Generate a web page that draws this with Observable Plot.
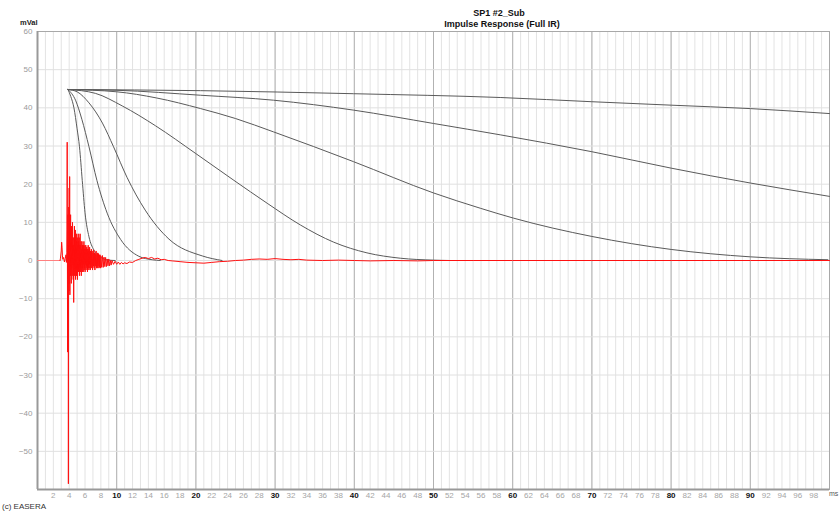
<!DOCTYPE html>
<html><head><meta charset="utf-8">
<script src="https://cdn.jsdelivr.net/npm/d3@7"></script>
<script src="https://cdn.jsdelivr.net/npm/@observablehq/plot@0.6"></script>
<style>
body{margin:0;background:#fff;font-family:"Liberation Sans",Arial,sans-serif;}
#wrap{position:relative;width:840px;height:511px;overflow:hidden;background:#fff}
.t{position:absolute;font-weight:bold;font-size:9px;color:#111;white-space:nowrap;transform:translateX(-50%)}
.s{position:absolute;font-size:8px;color:#333;white-space:nowrap}
</style></head><body><div id="wrap"></div>
<script>
// ---- data ----
const titleLines = ["SP1 #2_Sub", "Impulse Response (Full IR)"];
const yLabel = "mVal";
const xUnit = "ms";
const caption = "(c) EASERA";
const yTickValues = [-50, -40, -30, -20, -10, 0, 10, 20, 30, 40, 50, 60];
const xMajorLabels = [10, 20, 30, 40, 50, 60, 70, 80, 90];
const xMinorLabels = [2,4,6,8,12,14,16,18,22,24,26,28,32,34,36,38,42,44,46,48,52,54,56,58,62,64,66,68,72,74,76,78,82,84,86,88,92,94,96,98];

// decay curves (time ms, value mVal)
const decayA = [[3.85,44.8],[4.2,43],[4.6,40],[5.0,34.5],[5.3,29.8],[5.65,21],[6.0,12.5],[6.5,6.2],[7.1,2.8],[8.0,0.8],[9.0,0.1],[9.8,0]];
const decayB = [[3.85,44.8],[4.8,42],[5.6,37],[6.5,29.8],[7.5,21],[8.8,12.4],[10.5,5.5],[12.8,1.1],[14.5,0.2],[15.5,0]];
const decayC = [[3.85,44.8],[5,44.2],[6.5,41.3],[8.2,36],[9.6,29.8],[11.3,21.8],[13.6,13.2],[16.6,5.6],[20.8,1.2],[23.3,0]];
const decayD = [[3.85,44.8],[7.3,43.8],[10.7,40.5],[14.9,35.3],[20,28],[24.8,21],[29,15],[33.2,9.3],[37.4,4.8],[41.6,2],[45.8,0.6],[50,0.1],[52,0]];
const decayE = [[3.85,44.8],[10,44.2],[15,42.6],[20.6,39.8],[25,37.2],[29.8,33.7],[39.9,25.9],[50,17.7],[55.9,13.7],[60.1,11.1],[70,6.3],[80,2.9],[90,0.96],[99.8,0.2]];
const decayF = [[3.85,44.8],[10,44.6],[20.6,43.3],[29.8,42],[39.9,39.4],[50,35.9],[58.5,32.9],[70,28.5],[80,24.2],[90,20.3],[100,16.8]];
const decayG = [[3.85,44.8],[20.6,44.5],[39.9,43.7],[58.5,42.7],[70,41.6],[80,40.7],[90,39.8],[100,38.5]];

// impulse response (red): pre-signal part and the response itself
const preT = [0, 2.85];
const preV = [0, 0];
const irT = [2.85,2.9,3.0,3.05,3.1,3.15,3.2,3.3,3.4,3.5,3.6,3.65,3.7,
 3.72,3.75,3.78,3.8,3.83,3.86,3.88,3.9,3.92,3.95,3.98,4.0,4.03,4.06,4.09,4.12,4.15,4.18,4.21,4.24,4.27,4.3,4.33,4.36,4.39,4.42,4.45,4.48,4.51,4.54,4.57,4.6,4.63,4.66,4.69,4.72,4.75,4.78,4.81,4.84,4.87,4.9,4.93,4.96,4.99,
 5.02,5.05,5.08,5.11,5.14,5.17,5.2,5.23,5.26,5.29,5.32,5.35,5.38,5.41,5.44,5.47,5.5,5.53,5.56,5.59,5.62,5.65,5.68,5.71,5.74,5.77,5.8,5.83,5.86,5.89,5.92,5.95,5.98,
 6.01,6.04,6.07,6.1,6.13,6.16,6.19,6.22,6.25,6.28,6.31,6.34,6.37,6.4,6.43,6.46,6.49,6.52,6.55,6.58,6.61,6.64,6.67,6.7,6.75,6.8,6.85,6.9,6.95,
 7.0,7.05,7.1,7.15,7.2,7.25,7.3,7.35,7.4,7.45,7.5,7.55,7.6,7.65,7.7,7.75,7.8,7.85,7.9,7.95,
 8.0,8.1,8.2,8.3,8.4,8.5,8.6,8.7,8.8,8.9,9.0,9.1,9.2,9.3,9.4,9.6,9.8,10.0,10.2,10.4,10.6,10.8,11.0,11.3,11.6,12.0,12.4,12.8,13.2,13.6,14.0,14.4,14.8,15.2,15.6,16.0,16.5,
 17,18,19,20,21,22,23,24,25,26,27,28,29,30,31,32,33,34,36,38,40,42,45,48,50,55,60,70,80,90,100];
const irV = [0,0.6,2.5,4.8,3.5,1.2,0.3,0.8,-0.4,0.5,1.5,-0.5,2,
 8,31,-5,-24,12,-15,4,-58.5,-3,14,-8,19,-6,22,-9,10,-4,12,-3,8,-6,9,-2,7,-4,10,-1,6,-5,4,-11,6,-3,9,-4,6,-2,8,-5,4,-3,7,-4,5,-2,
 6,-5,4,-1,7,-3,5,-2,6,-4,4,-1,7,-3,4,-2,5,-4,3,-1,5,-3,4,-2,3.5,-3,4,-1,5,-2.5,3,-2,4,
 -3,3,-1,4,-2.5,3,-1.5,3.5,-2,2.5,-3,3,-1,4,-2,2.5,-2.5,3,-1,3.5,-2,2,-2.5,2.5,-1.5,3,-2,2.5,-2.5,
 2,-1.5,2.8,-2,2,-2.5,1.8,-1.5,2.5,-2,1.5,-2,2,-1.5,1.8,-2,1.5,-1.8,1.5,-2,
 1.2,-1.8,1.3,-1.8,0.9,-1.6,0.8,-1.6,0.4,-1.4,0.4,-1.4,0,-1.2,0,-1,-0.2,-1,-0.4,-1,-0.5,-0.9,-0.6,-0.8,-0.4,-0.5,0,0.3,0.6,0.8,0.5,0.8,0.4,0.6,0.2,0.3,0,
 -0.1,-0.3,-0.5,-0.6,-0.7,-0.5,-0.3,-0.2,0,0.1,0.3,0.4,0.3,0.5,0.3,0.2,0.3,0.1,0,0.1,0,-0.1,0,-0.1,0,0,0,0,0,0,0];

// ---- build ----
const decays = [decayA, decayB, decayC, decayD, decayE, decayF, decayG];
const decayRows = decays.flatMap((arr, i) => arr.map(([t, v]) => ({t, v, k: i})));
const irRows = irT.map((t, i) => ({t, v: irV[i]}));
const preRows = preT.map((t, i) => ({t, v: preV[i]}));
const xGrid = d3.range(1, 100, 1);

const chart = Plot.plot({
  width: 840, height: 511,
  marginLeft: 37, marginRight: 11, marginTop: 31, marginBottom: 22,
  x: {domain: [0, 100]},
  y: {domain: [-60, 60]},
  style: {fontFamily: "'Liberation Sans', Arial, sans-serif", fontSize: "8px", background: "#fff", overflow: "visible"},
  marks: [
    Plot.ruleX(xGrid, {stroke: "#e3e3e3", strokeWidth: 1}),
    Plot.ruleX(xMajorLabels, {stroke: "#b2b2b2", strokeWidth: 1}),
    Plot.ruleY(yTickValues, {stroke: "#e0e0e0", strokeWidth: 1}),
    Plot.frame({stroke: "#a8a8a8", strokeWidth: 1}),
    Plot.ruleX([0], {stroke: "#999", strokeWidth: 2}),
    Plot.ruleY([-60], {stroke: "#999", strokeWidth: 2}),
    Plot.line(decayRows, {x: "t", y: "v", z: "k", stroke: "#5a5a5a", strokeWidth: 1, curve: "monotone-x"}),
    Plot.line(preRows, {x: "t", y: "v", stroke: "#ff8080", strokeWidth: 1}),
    Plot.line(irRows, {x: "t", y: "v", stroke: "#ff1010", strokeWidth: 1}),
    Plot.axisY(yTickValues, {tickSize: 0, tickPadding: 5, fill: "#9a9a9a", label: null}),
    Plot.axisX(xMinorLabels, {tickSize: 0, tickPadding: 3, fill: "#a5a5a5", label: null}),
    Plot.axisX(xMajorLabels, {tickSize: 0, tickPadding: 3, fill: "#111", fontWeight: "bold", label: null})
  ]
});
const wrap = document.getElementById("wrap");
wrap.appendChild(chart);
function addText(cls, txt, left, top, extra) {
  const d = document.createElement("div");
  d.className = cls; d.textContent = txt;
  d.style.left = left + "px"; d.style.top = top + "px";
  if (extra) Object.assign(d.style, extra);
  wrap.appendChild(d);
}
addText("t", titleLines[0], 499, 8);
addText("t", titleLines[1], 502, 19);
addText("s", yLabel, 20, 18, {fontWeight: "bold", color: "#222", fontSize: "7.5px"});
addText("s", xUnit, 829, 490, {color: "#555", fontSize: "7px"});
addText("s", caption, 2, 502, {color: "#333"});
</script></body></html>
